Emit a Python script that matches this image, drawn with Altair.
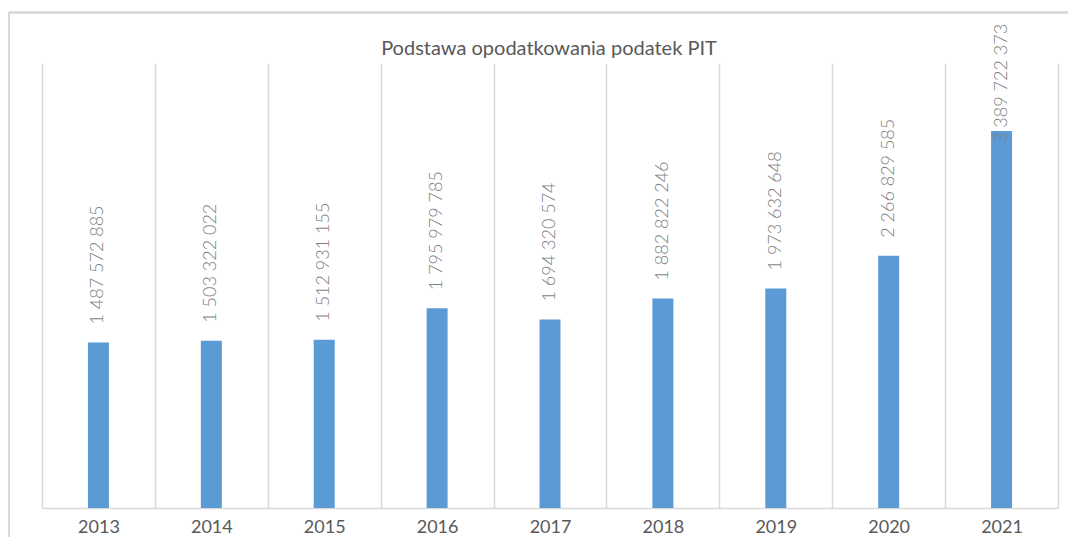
import altair as alt
import pandas as pd

years = ["2013", "2014", "2015", "2016", "2017", "2018", "2019", "2020", "2021"]
values = [1487572885, 1503322022, 1512931155, 1795979785, 1694320574,
          1882822246, 1973632648, 2266829585, 3389722373]
labels = [f"{v:,}".replace(",", " ") for v in values]
title_text = ["Podstawa opodatkowania podatek PIT"]

df = pd.DataFrame({"year": years, "value": values, "label": labels})
tdf = pd.DataFrame({"t": title_text})

W, H = 1016, 445
YMAX = 4.0e9
FONT = "Lato"

xenc = alt.X("year:N", sort=years, title=None,
             scale=alt.Scale(paddingInner=0, paddingOuter=0),
             axis=alt.Axis(tickBand="extent", grid=True, gridColor="#d9d9d9",
                           gridWidth=1.5, ticks=False, domain=True,
                           domainColor="#d9d9d9", domainWidth=1.5,
                           labelAngle=0, labelFont=FONT, labelFontSize=18,
                           labelColor="#595959", labelPadding=10,
                           labelBaseline="top"))
yscale = alt.Scale(domain=[0, YMAX], nice=False, zero=True)

bars = alt.Chart(df).mark_bar(size=21, color="#5B9BD5").encode(
    x=xenc,
    y=alt.Y("value:Q", scale=yscale, axis=None),
)

texts = alt.Chart(df).transform_calculate(
    lab="min(datum.value + 161800000, 3281000000)"
).mark_text(angle=270, align="left", baseline="middle", font=FONT,
            fontSize=18, fontWeight=300, color="#7f7f7f").encode(
    x=alt.X("year:N", sort=years),
    y=alt.Y("lab:Q", scale=yscale, axis=None),
    text="label:N",
)

title = alt.Chart(tdf).mark_text(align="center", baseline="alphabetic",
                                 font=FONT, fontSize=20, color="#595959").encode(
    x=alt.value(W / 2 - 1), y=alt.value(-8), text="t:N")

border_top = alt.Chart(df).mark_rule(color="#d9d9d9", strokeWidth=1.5).encode(
    x=alt.value(-33), x2=alt.value(W + 20), y=alt.value(-50.5))
border_left = alt.Chart(df).mark_rule(color="#d9d9d9", strokeWidth=1.5).encode(
    x=alt.value(-33), y=alt.value(-50.5), y2=alt.value(H + 60))

chart = alt.layer(border_top, border_left, bars, texts, title).properties(
    width=W, height=H,
    padding={"left": 34, "top": 55, "right": 10, "bottom": 29},
    autosize=alt.AutoSizeParams(type="none"),
).configure_view(stroke=None)

chart.save("out.html", embed_options={"renderer": "svg", "actions": False})
